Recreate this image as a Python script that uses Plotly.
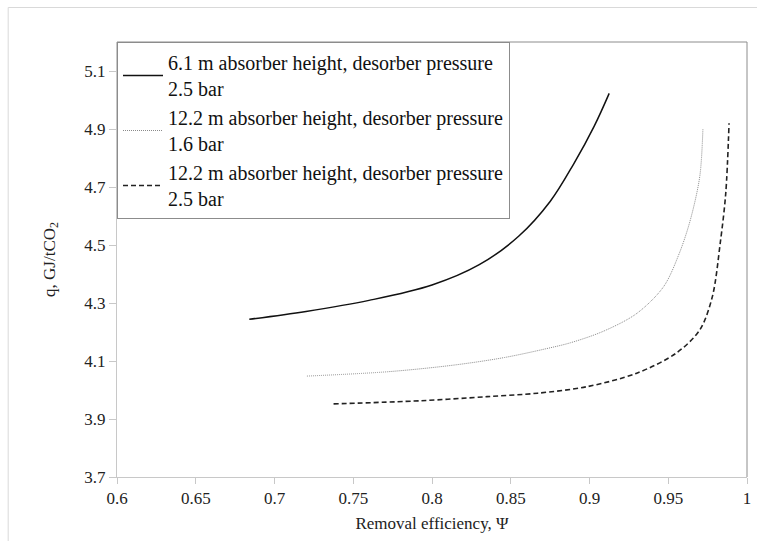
import plotly.graph_objects as go

# ---- data ----
series_names = [
    "6.1 m absorber height, desorber pressure<br>2.5 bar",
    "12.2 m absorber height, desorber pressure<br>1.6 bar",
    "12.2 m absorber height, desorber pressure<br>2.5 bar",
]
x_h61_p25 = [0.684, 0.720, 0.760, 0.800, 0.830, 0.855, 0.875, 0.890, 0.903, 0.9125]
q_h61_p25 = [4.244, 4.271, 4.309, 4.362, 4.432, 4.530, 4.650, 4.780, 4.910, 5.023]

x_h122_p16 = [0.7206, 0.772, 0.814, 0.846, 0.873, 0.888, 0.909, 0.930, 0.947, 0.957, 0.964, 0.970, 0.972]
q_h122_p16 = [4.048, 4.063, 4.086, 4.112, 4.143, 4.163, 4.203, 4.264, 4.356, 4.471, 4.586, 4.736, 4.899]

x_h122_p25 = [0.7375, 0.793, 0.835, 0.867, 0.898, 0.930, 0.955, 0.970, 0.978, 0.983, 0.9865, 0.9886]
q_h122_p25 = [3.952, 3.963, 3.977, 3.989, 4.011, 4.058, 4.127, 4.207, 4.322, 4.506, 4.678, 4.920]

x_tickvals = [0.6, 0.65, 0.7, 0.75, 0.8, 0.85, 0.9, 0.95, 1.0]
x_ticktext = ["0.6", "0.65", "0.7", "0.75", "0.8", "0.85", "0.9", "0.95", "1"]
y_tickvals = [3.7, 3.9, 4.1, 4.3, 4.5, 4.7, 4.9, 5.1]
y_ticktext = ["3.7", "3.9", "4.1", "4.3", "4.5", "4.7", "4.9", "5.1"]

FONT = "Liberation Serif, Times New Roman, serif"

fig = go.Figure()
fig.add_trace(go.Scatter(x=x_h61_p25, y=q_h61_p25, mode="lines", name=series_names[0],
                         line=dict(color="#111111", width=1.5, shape="spline", smoothing=1.0)))
fig.add_trace(go.Scatter(x=x_h122_p16, y=q_h122_p16, mode="lines", name=series_names[1],
                         line=dict(color="#8a8a8a", width=1, dash="1px,1px", shape="spline", smoothing=0.9)))
fig.add_trace(go.Scatter(x=x_h122_p25, y=q_h122_p25, mode="lines", name=series_names[2],
                         line=dict(color="#222222", width=1.6, dash="5px,3px", shape="spline", smoothing=0.9)))

W, H = 757, 541
L, R, T, B = 117, 6, 42, 64
pw, ph = W - L - R, H - T - B

def px_x(p):
    return (p - L) / pw

def px_y(p):
    return (H - B - p) / ph

fig.update_layout(
    width=W, height=H,
    margin=dict(l=L, r=R, t=T, b=B),
    paper_bgcolor="white", plot_bgcolor="white",
    font=dict(family=FONT, size=17, color="#222222"),
    showlegend=True,
    legend=dict(x=0.0, y=1.0, xanchor="left", yanchor="top",
                bgcolor="white", bordercolor="#8c8c8c", borderwidth=1,
                font=dict(family=FONT, size=20, color="#111111"),
                itemwidth=40),
    xaxis=dict(range=[0.6, 1.0], tickvals=x_tickvals, ticktext=x_ticktext,
               showgrid=False, zeroline=False, showline=True, linecolor="#c8c8c8", linewidth=1,
               ticks="outside", ticklen=6, tickcolor="#c8c8c8", ticklabeloverflow="allow",
               tickfont=dict(family=FONT, size=17, color="#222222"),
               title=dict(text="Removal efficiency, \u03a8", standoff=9,
                          font=dict(family=FONT, size=17, color="#222222"))),
    yaxis=dict(range=[3.7, 5.2], tickvals=y_tickvals, ticktext=y_ticktext,
               showgrid=False, zeroline=False, showline=True, linecolor="#c8c8c8", linewidth=1,
               ticks="outside", ticklen=7, tickcolor="#c8c8c8",
               tickfont=dict(family=FONT, size=17, color="#222222"),
               title=dict(text="q, GJ/tCO<sub>2</sub>", standoff=24,
                          font=dict(family=FONT, size=17, color="#222222"))),
    shapes=[
        # plot-area border (top and right)
        dict(type="line", xref="paper", yref="paper", x0=0, x1=1, y0=1, y1=1,
             line=dict(color="#8c8c8c", width=1)),
        dict(type="line", xref="paper", yref="paper", x0=1, x1=1, y0=0, y1=1,
             line=dict(color="#8c8c8c", width=1)),
        # outer chart border
        dict(type="rect", xref="paper", yref="paper",
             x0=px_x(7.5), x1=px_x(770), y0=px_y(560), y1=px_y(7.5),
             line=dict(color="#d9d9d9", width=1), layer="below"),
    ],
)

# remove the browser's default 8px body margin so the figure fills the window exactly
fig.write_html("out.html",
               config={"displayModeBar": False},
               post_script="document.body.style.margin='0';document.body.style.overflow='hidden';")
